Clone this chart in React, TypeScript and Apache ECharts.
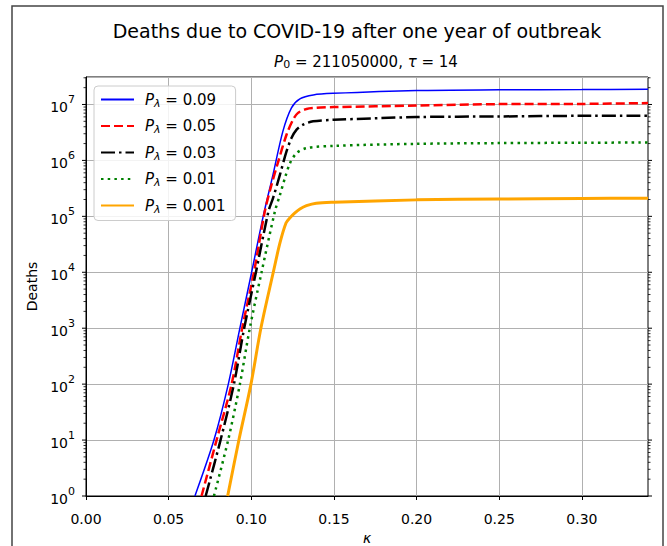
import React, { useEffect, useRef } from "react";
import * as echarts from "echarts";

const FONT = "DejaVu Sans";

const legendLabels = ["0.09", "0.05", "0.03", "0.01", "0.001"];
const xTicks = [0, 0.05, 0.1, 0.15, 0.2, 0.25, 0.3];

const kappa009 = [0.0659, 0.0774, 0.0861, 0.0931, 0.1002, 0.1072, 0.1131, 0.1191, 0.1243, 0.1294, 0.1375, 0.1495, 0.2, 0.25, 0.3, 0.34];
const deaths009 = [1, 10, 100, 1000, 1e4, 1e5, 5.5e5, 3.31e6, 8.71e6, 1.26e7, 1.48e7, 1.58e7, 1.78e7, 1.83e7, 1.85e7, 1.88e7];

const kappa005 = [0.0699, 0.079, 0.0881, 0.0945, 0.1016, 0.1082, 0.1122, 0.1163, 0.1213, 0.1253, 0.1283, 0.1334, 0.1393, 0.15, 0.2, 0.25, 0.3, 0.34];
const deaths005 = [1, 10, 100, 1000, 1e4, 1.23e5, 3.63e5, 9.55e5, 2.88e6, 5.37e6, 7.08e6, 8.32e6, 8.71e6, 8.97e6, 9.55e6, 1.016e7, 1.023e7, 1.059e7];

const kappa003 = [0.0724, 0.0814, 0.0895, 0.0957, 0.1028, 0.1104, 0.1132, 0.1173, 0.1213, 0.1243, 0.1274, 0.1314, 0.1374, 0.15, 0.2, 0.25, 0.3, 0.34];
const deaths003 = [1, 10, 100, 1000, 1e4, 1.23e5, 2.14e5, 5.5e5, 1.445e6, 2.51e6, 3.55e6, 4.37e6, 5.01e6, 5.32e6, 5.96e6, 6.11e6, 6.28e6, 6.31e6];

const kappa001 = [0.0774, 0.086, 0.0931, 0.0991, 0.1062, 0.1143, 0.1173, 0.1203, 0.1234, 0.1274, 0.1334, 0.15, 0.2, 0.25, 0.3, 0.34];
const deaths001 = [1, 10, 100, 1000, 1e4, 1.23e5, 2.4e5, 4.79e5, 8.91e5, 1.35e6, 1.66e6, 1.82e6, 1.98e6, 2.04e6, 2.07e6, 2.09e6];

const kappa0001 = [0.0857, 0.0925, 0.0998, 0.1058, 0.1133, 0.1173, 0.121, 0.1233, 0.1264, 0.1294, 0.1334, 0.1393, 0.15, 0.2, 0.25, 0.3, 0.34];
const deaths0001 = [1, 10, 100, 1000, 1e4, 3.31e4, 7.59e4, 9.33e4, 1.15e5, 1.35e5, 1.55e5, 1.72e5, 1.79e5, 1.97e5, 2.04e5, 2.09e5, 2.11e5];

const decades = [1, 10, 100, 1000, 1e4, 1e5, 1e6, 1e7];
const minorMultipliers = [2, 3, 4, 5, 6, 7, 8, 9];

const zip = (xs: number[], ys: number[]) => xs.map((x, i) => [x, ys[i]]);

export default function App() {
  const ref = useRef<HTMLDivElement>(null);
  useEffect(() => {
    if (!ref.current) return;
    const chart = echarts.init(ref.current, null, { renderer: "svg" });

    const tickData: number[][] = [];
    decades.forEach((d) => {
      tickData.push([0, d, 1]);
      minorMultipliers.forEach((m) => {
        const v = d * m;
        if (v <= 3.1e7) tickData.push([0, v, 0]);
      });
    });

    const legendRich = {
      it: { fontFamily: FONT, fontSize: 15, fontStyle: "italic", fontWeight: "normal", color: "#000", padding: [0, 0, 0, 6] },
      sub: { fontFamily: FONT, fontSize: 11, fontStyle: "italic", fontWeight: "normal", color: "#000", padding: [7, 0, 0, 0] },
      n: { fontFamily: FONT, fontSize: 15, fontWeight: "normal", color: "#000" },
    };

    const mk = (name: string, xs: number[], ys: number[], color: string, width: number, type: any) => ({
      name,
      type: "line",
      data: zip(xs, ys),
      showSymbol: false,
      symbol: "none",
      smooth: 0.3,
      lineStyle: { color, width, type, cap: "butt" },
      itemStyle: { color },
      clip: true,
    });

    chart.setOption({
      animation: false,
      backgroundColor: "#fff",
      title: [
        {
          text: "Deaths due to COVID-19 after one year of outbreak",
          left: 357,
          top: 21,
          textAlign: "center",
          padding: 0,
          textStyle: { fontFamily: FONT, fontSize: 19, fontWeight: "normal", color: "#000" },
        },
        {
          text: "{i|P}{sub|0}{n| = 211050000, }{i|τ}{n| = 14}",
          left: 366,
          top: 53,
          textAlign: "center",
          padding: 0,
          textStyle: {
            fontWeight: "normal",
            rich: {
              i: { fontFamily: FONT, fontSize: 15, fontStyle: "italic", fontWeight: "normal", color: "#000" },
              sub: { fontFamily: FONT, fontSize: 11, fontWeight: "normal", color: "#000", padding: [6, 0, 0, 0] },
              n: { fontFamily: FONT, fontSize: 15, fontWeight: "normal", color: "#000" },
            },
          },
        },
      ],
      graphic: [
        {
          type: "rect",
          shape: { x: 12, y: 6, width: 651, height: 560 },
          style: { fill: "none", stroke: "#444", lineWidth: 1.5 },
          silent: true,
        },
      ],
      legend: {
        orient: "vertical",
        left: 94,
        top: 86,
        padding: [6, 10, 6, 6],
        itemWidth: 33,
        itemHeight: 14,
        itemGap: 10,
        backgroundColor: "rgba(255,255,255,0.85)",
        borderColor: "#cccccc",
        borderWidth: 1,
        borderRadius: 4,
        itemStyle: { opacity: 0 },
        data: legendLabels.map((l) => "P" + l),
        formatter: (name: string) => `{it|P}{sub|λ}{n| = ${name.slice(1)}}`,
        textStyle: { rich: legendRich },
      },
      grid: {
        left: 86,
        right: 19,
        top: 77,
        bottom: 50,
        containLabel: false,
        outerBoundsMode: "none",
        show: true,
        borderColor: "#000",
        borderWidth: 1,
        backgroundColor: "transparent",
      },
      xAxis: {
        type: "value",
        min: 0,
        max: 0.34,
        interval: 0.05,
        name: "κ",
        nameLocation: "middle",
        nameGap: 33,
        nameTextStyle: { fontFamily: FONT, fontSize: 14, fontStyle: "italic", color: "#000" },
        axisLine: { show: true, lineStyle: { color: "#000", width: 1 } },
        axisTick: { show: true, length: 4, lineStyle: { color: "#000" }, customValues: xTicks },
        axisLabel: {
          show: true,
          margin: 16,
          fontFamily: FONT,
          fontSize: 14,
          color: "#000",
          customValues: xTicks,
          formatter: (v: number) => v.toFixed(2),
        },
        splitLine: { show: true, lineStyle: { color: "#b0b0b0", width: 1 } },
      },
      yAxis: {
        type: "log",
        logBase: 10,
        min: 1,
        max: 3.1e7,
        name: "Deaths",
        nameLocation: "middle",
        nameGap: 37,
        nameTextStyle: { fontFamily: FONT, fontSize: 14, color: "#000" },
        axisLine: { show: true, lineStyle: { color: "#000", width: 1 } },
        axisTick: { show: false },
        axisLabel: {
          margin: 11,
          formatter: (v: number) => {
            const l = Math.log10(v);
            const e = Math.round(l);
            if (Math.abs(l - e) > 1e-6) return "";
            return `{b|10}{s|${e}}`;
          },
          rich: {
            b: { fontFamily: FONT, fontSize: 14, color: "#000", lineHeight: 20, verticalAlign: "bottom" },
            s: { fontFamily: FONT, fontSize: 11, color: "#000", lineHeight: 20, verticalAlign: "top" },
          },
        },
        splitLine: { show: true, lineStyle: { color: "#b0b0b0", width: 1 } },
      },
      series: [
        mk("P0.09", kappa009, deaths009, "#0000ff", 1.5, "solid"),
        mk("P0.05", kappa005, deaths005, "#ff0000", 2.5, [9, 4]),
        mk("P0.03", kappa003, deaths003, "#000000", 2.5, [14, 4, 2.5, 4]),
        mk("P0.01", kappa001, deaths001, "#008000", 2.5, [2.5, 4.2]),
        mk("P0.001", kappa0001, deaths0001, "#ffa500", 3, "solid"),
        {
          type: "custom",
          silent: true,
          clip: false,
          data: tickData,
          renderItem: (params: any, api: any) => {
            const v = api.value(1);
            const major = api.value(2) === 1;
            const pl = api.coord([0, v]);
            const pr = api.coord([0.34, v]);
            const len = major ? 4 : 2.5;
            const lw = major ? 1 : 0.8;
            return {
              type: "group",
              children: [
                { type: "line", shape: { x1: pl[0] - len, y1: pl[1], x2: pl[0], y2: pl[1] }, style: { stroke: "#000", lineWidth: lw } },
                { type: "line", shape: { x1: pr[0], y1: pr[1], x2: pr[0] + len, y2: pr[1] }, style: { stroke: "#000", lineWidth: lw } },
              ],
            };
          },
        },
      ],
    });
    return () => chart.dispose();
  }, []);
  return <div ref={ref} style={{ width: 667, height: 546, position: "absolute", left: 0, top: 0 }} />;
}
